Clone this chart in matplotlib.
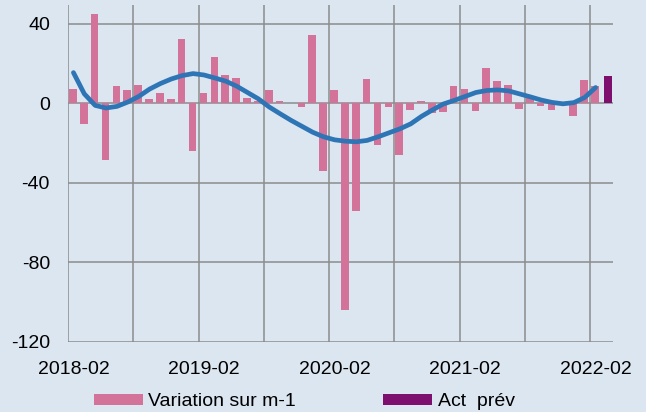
import matplotlib
matplotlib.use("Agg")
import matplotlib.pyplot as plt
from matplotlib.patches import Patch
import numpy as np

# monthly change (bars), from 2018-02 to 2022-02
variation = [7.3, -10.3, 45, -28.5, 8.8, 6.7, 9.5, 2, 5, 2, 32.5, -24,
             5, 23.3, 14.2, 12.7, 2.7, 1, 6.5, 1, 0.3, -1.8, 34.2, -34.2,
             6.5, -104, -54, 12.5, -21, -1.8, -25.7, -3.3, 1, -4.7, -4.2, 9,
             7, -3.7, 17.7, 11.5, 9.2, -3, 3.5, -1.2, -3.5, 0.5, -6.3, 12,
             9]
# smoothed trend (blue line)
trend = [15.5, 4.8, -1, -2.3, -1.5, 0.7, 3.5, 7.2, 10, 12.3, 14, 15,
         14.3, 12.8, 11.2, 8.7, 5.5, 2.3, -1.8, -5.2, -8.5, -11.5, -14.5, -16.8,
         -18.3, -19, -19.3, -18.6, -16.8, -14.8, -12.8, -10.3, -6.5, -3.3, -0.3, 1.5,
         3.5, 5.5, 6.5, 6.8, 6.3, 4.8, 3.3, 1.7, 0.5, -0.2, 0.4, 3,
         8]
act_prev = [14]
tick_labels = ["2018-02", "2019-02", "2020-02", "2021-02", "2022-02"]
yticks = [40, 0, -40, -80, -120]

bg = "#DCE6F1"
pink = "#D47399"
purple = "#7F0F6E"
blue = "#2E75B6"
grid_c = "#8C8C8C"

plt.rcParams["font.family"] = ["Liberation Sans", "DejaVu Sans"]

fig = plt.figure(figsize=(6.46, 4.12), dpi=100, facecolor=bg)
ax = fig.add_axes([68 / 646, 70 / 412, 545 / 646, 337 / 412])
ax.set_facecolor(bg)

x = np.arange(len(variation))
ax.bar(x + 0.45, variation, width=0.7, color=pink, zorder=2)
ax.bar([len(variation) + 0.66], act_prev, width=0.72, color=purple, zorder=2)
ax.plot(x + 0.5, trend, color=blue, lw=3.4, solid_capstyle="round",
        solid_joinstyle="round", zorder=3)

ax.set_xlim(0, 50.1)
ax.set_ylim(-120, 49.5)
ax.set_yticks(yticks)
ax.set_yticklabels([str(v) for v in yticks])
ax.set_xticks([0.5 + 12 * k for k in range(len(tick_labels))])
ax.set_xticklabels(tick_labels)
ax.set_xticks(np.arange(0, 49, 6), minor=True)

ax.grid(False)
ax.yaxis.grid(True, color=grid_c, lw=1.1, zorder=1)
ax.xaxis.grid(True, which="minor", color=grid_c, lw=1.1, zorder=1)
ax.set_axisbelow(True)
for s in ax.spines.values():
    s.set_visible(False)
ax.tick_params(axis="both", which="both", length=0, labelsize=14, colors="black")
ax.tick_params(axis="y", pad=13)
ax.tick_params(axis="x", pad=14)

handles = [Patch(facecolor=pink, label="Variation sur m-1"),
           Patch(facecolor=purple, label="Act  prév")]
fig.legend(handles=handles, loc="lower left", bbox_to_anchor=(92 / 646, 0.0),
           ncol=2, frameon=False, fontsize=14, handlelength=2.52,
           handleheight=0.51, handletextpad=0.27, columnspacing=4.5,
           borderpad=0.1, borderaxespad=0.0)

fig.savefig("out.png", dpi=100, facecolor=bg)
